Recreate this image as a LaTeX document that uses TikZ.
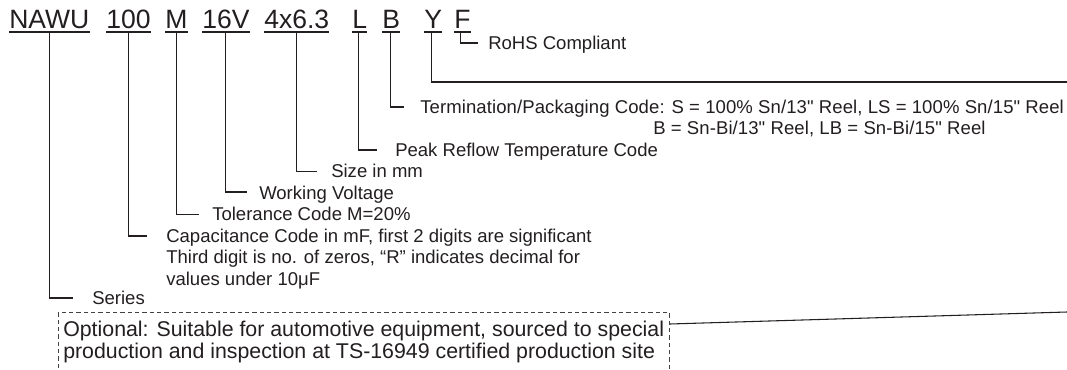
\documentclass[tikz,border=0pt]{standalone}
\usepackage{fontspec}
\newfontfamily\hv{Liberation Sans}
\newfontfamily\hvwide{Liberation Sans}[LetterSpace=0.5]
\usetikzlibrary{calc}
\definecolor{ink}{HTML}{231F20}
\begin{document}
\begin{tikzpicture}[x=0.75pt,y=-0.75pt,
  code/.style={inner sep=0pt, anchor=base west, text=ink, font=\hv\fontsize{19.9pt}{24pt}\selectfont},
  desc/.style={inner sep=0pt, anchor=base west, text=ink, font=\hv\fontsize{13.9pt}{16pt}\selectfont},
  descwide/.style={desc, font=\hvwide\fontsize{13.9pt}{16pt}\selectfont},
  opt/.style={inner sep=0pt, anchor=base west, text=ink, font=\hv\fontsize{16pt}{19pt}\selectfont},
  lead/.style={draw=ink, line width=0.8pt},
  uline/.style={draw=ink, line width=0.9pt},
  optframe/.style={draw=ink!85, line width=0.75pt, dash pattern=on 3.2pt off 2.3pt, inner sep=0pt, anchor=north west, minimum width=458.25pt, minimum height=46pt}]
\useasboundingbox[fill=white] (0,0) rectangle (1067,370);

% code letters
\node[code] (cnawu) at (9,29) {NAWU};
\node[code] (c100) at (106,29) {100};
\node[code] (cm) at (165,29) {M};
\node[code] (c16v) at (202,29) {16V};
\node[code] (csize) at (264,29) {4x6.3};
\node[code] (cl) at (352,29) {L};
\node[code] (cb) at (382,29) {B};
\node[code] (cy) at (424,29) {Y};
\node[code] (cf) at (454,29) {F};
\foreach \n in {cnawu,c100,cm,c16v,csize,cl,cb,cy,cf}
  \draw[uline] ($(\n.base west)+(0,3)$) -- ($(\n.base east)+(0,3)$);

% descriptions
\node[desc] (rohs) at (488,49.5) {RoHS Compliant};
\node[descwide] (term1) at (420,113.5) {Termination/Packaging Code: S = 100\% Sn/13" Reel, LS = 100\% Sn/15" Reel};
\node[descwide] (term2) at (653,135) {B = Sn-Bi/13" Reel, LB = Sn-Bi/15" Reel};
\node[desc] (peak) at (395,156.5) {Peak Reflow Temperature Code};
\node[desc] (sizet) at (331,178) {Size in mm};
\node[desc] (volt) at (259,199.5) {Working Voltage};
\node[desc] (tol) at (212,221) {Tolerance Code M=20\%};
\node[desc] (cap1) at (166,242.5) {Capacitance Code in mF, first 2 digits are significant};
\node[desc] (cap2) at (166,264) {Third digit is no. of zeros, “R” indicates decimal for};
\node[desc] (cap3) at (166,285.5) {values under 10μF};
\node[desc] (series) at (92,305) {Series};

% optional box
\node[optframe] (optbox) at (58,312) {};
\node[opt] (opt1) at (63,336) {Optional: Suitable for automotive equipment, sourced to special};
\node[opt] (opt2) at (63,358) {production and inspection at TS-16949 certified production site};

\coordinate (yend) at (1067,82);
\coordinate (boxend) at (1067,312);

% leaders
\draw[lead] ($(cf.base)+(-1.5,3)$) |- ([shift={(-10,-6.5)}]rohs.base west);
\draw[lead] ($(cy.base)+(-2,3)$) |- (yend);
\draw[lead] ($(cb.base)+(-1,3)$) |- ([shift={(-16,-6.5)}]term1.base west);
\draw[lead] ($(cl.base)+(-1,3)$) |- ([shift={(-18,-6.5)}]peak.base west);
\draw[lead] ($(csize.base)+(0,3)$) |- ([shift={(-14,-6.5)}]sizet.base west);
\draw[lead] ($(c16v.base)+(0,3)$) |- ([shift={(-12,-7.5)}]volt.base west);
\draw[lead] ($(cm.base)+(0,3)$) |- ([shift={(-13,-6.5)}]tol.base west);
\draw[lead] ($(c100.base)+(0,3)$) |- ([shift={(-19,-6.5)}]cap1.base west);
\draw[lead] ($(cnawu.base)+(0,3)$) |- ([shift={(-19,-7)}]series.base west);
\draw[lead] ([shift={(0,12)}]optbox.north east) -- (boxend);
\end{tikzpicture}
\end{document}
